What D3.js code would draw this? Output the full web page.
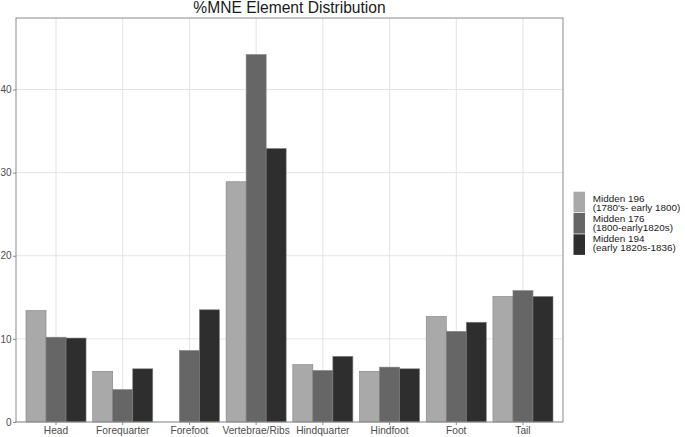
<!DOCTYPE html>
<html><head><meta charset="utf-8">
<script src="https://cdn.jsdelivr.net/npm/d3@7/dist/d3.min.js"></script>
<style>body{margin:0;background:#fff}svg{display:block;font-family:"Liberation Sans",Arial,sans-serif}</style>
</head><body><svg id="c" width="685" height="437"></svg>
<script>
const categories = ["Head","Forequarter","Forefoot","Vertebrae/Ribs","Hindquarter","Hindfoot","Foot","Tail"];
const seriesNames = ["Midden 196", "Midden 176", "Midden 194"];
const seriesSub = ["(1780's- early 1800)", "(1800-early1820s)", "(early 1820s-1836)"];
const midden196 = [13.4, 6.1, null, 28.9, 6.9, 6.1, 12.7, 15.1];
const midden176 = [10.2, 3.9, 8.6, 44.2, 6.2, 6.6, 10.9, 15.8];
const midden194 = [10.1, 6.4, 13.5, 32.9, 7.9, 6.4, 12.0, 15.1];
const yTicks = [0, 10, 20, 30, 40];
const colors = ["#a9a9a9", "#666666", "#2e2e2e"];
const series = [midden196, midden176, midden194];

const svg = d3.select("#c");
const L = 16, R = 563, T = 18, B = 422;
// ggplot-like discrete expansion of 0.6 units each side
const x = d3.scalePoint().domain(categories).range([0, 1]);
const unit = (R - L) / (categories.length - 1 + 1.2);
const xc = c => L + unit * (0.6 + x(c) * (categories.length - 1));
const y = d3.scaleLinear().domain([0, 48.6]).range([B, T]);

// grid
const g = svg.append("g");
g.selectAll("line.gy").data(yTicks).join("line")
  .attr("x1", L).attr("x2", R).attr("y1", d => y(d)).attr("y2", d => y(d))
  .attr("stroke", "#e3e3e3").attr("stroke-width", 1);
g.selectAll("line.gx").data(categories).join("line")
  .attr("x1", d => xc(d)).attr("x2", d => xc(d)).attr("y1", T).attr("y2", B)
  .attr("stroke", "#e3e3e3").attr("stroke-width", 1);

// bars
const bw = unit * 0.3;
series.forEach((s, i) => {
  svg.append("g").selectAll("rect").data(categories.map((c, j) => ({c, v: s[j]})).filter(d => d.v != null)).join("rect")
    .attr("x", d => xc(d.c) - 1.5 * bw + i * bw)
    .attr("y", d => y(d.v))
    .attr("width", bw)
    .attr("height", d => y(0) - y(d.v))
    .attr("fill", colors[i])
    .attr("stroke", "#808080").attr("stroke-width", 0.6);
});

// panel border
svg.append("rect").attr("x", L).attr("y", T).attr("width", R - L).attr("height", B - T)
  .attr("fill", "none").attr("stroke", "#8a8a8a").attr("stroke-width", 1);

// y axis
const ya = svg.append("g").attr("transform", `translate(${L},0)`)
  .call(d3.axisLeft(y).tickValues(yTicks).tickSize(3).tickPadding(1.5).tickFormat(d3.format("d")));
ya.select(".domain").remove();
ya.selectAll("line").attr("stroke", "#8a8a8a");
ya.selectAll("text").attr("fill", "#4d4d4d").style("font-size", "10px").style("font-family", "Liberation Sans, Arial, sans-serif");

// x axis
const xa = svg.append("g").attr("transform", `translate(0,${B})`);
xa.selectAll("line").data(categories).join("line")
  .attr("x1", d => xc(d)).attr("x2", d => xc(d)).attr("y1", 0).attr("y2", 3).attr("stroke", "#8a8a8a");
xa.selectAll("text").data(categories).join("text")
  .attr("x", d => xc(d)).attr("y", 12).attr("text-anchor", "middle")
  .attr("fill", "#4d4d4d").style("font-size", "10.2px").text(d => d);

// title
svg.append("text").attr("x", (L + R) / 2).attr("y", 12.8).attr("text-anchor", "middle")
  .attr("fill", "#1a1a1a").style("font-size", "15.6px").text("%MNE Element Distribution");

// legend
const lg = svg.append("g").attr("transform", "translate(573.5,191.7)");
seriesNames.forEach((n, i) => {
  lg.append("rect").attr("x", 0).attr("y", i * 21.3).attr("width", 11.5).attr("height", 20.6).attr("fill", colors[i]);
  const t = lg.append("text").attr("fill", "#1a1a1a").style("font-size", "9.9px");
  t.append("tspan").attr("x", 19.3).attr("y", 10.6 + i * 20).text(n);
  t.append("tspan").attr("x", 19.3).attr("y", 19.8 + i * 20).text(seriesSub[i]);
});
</script></body></html>
